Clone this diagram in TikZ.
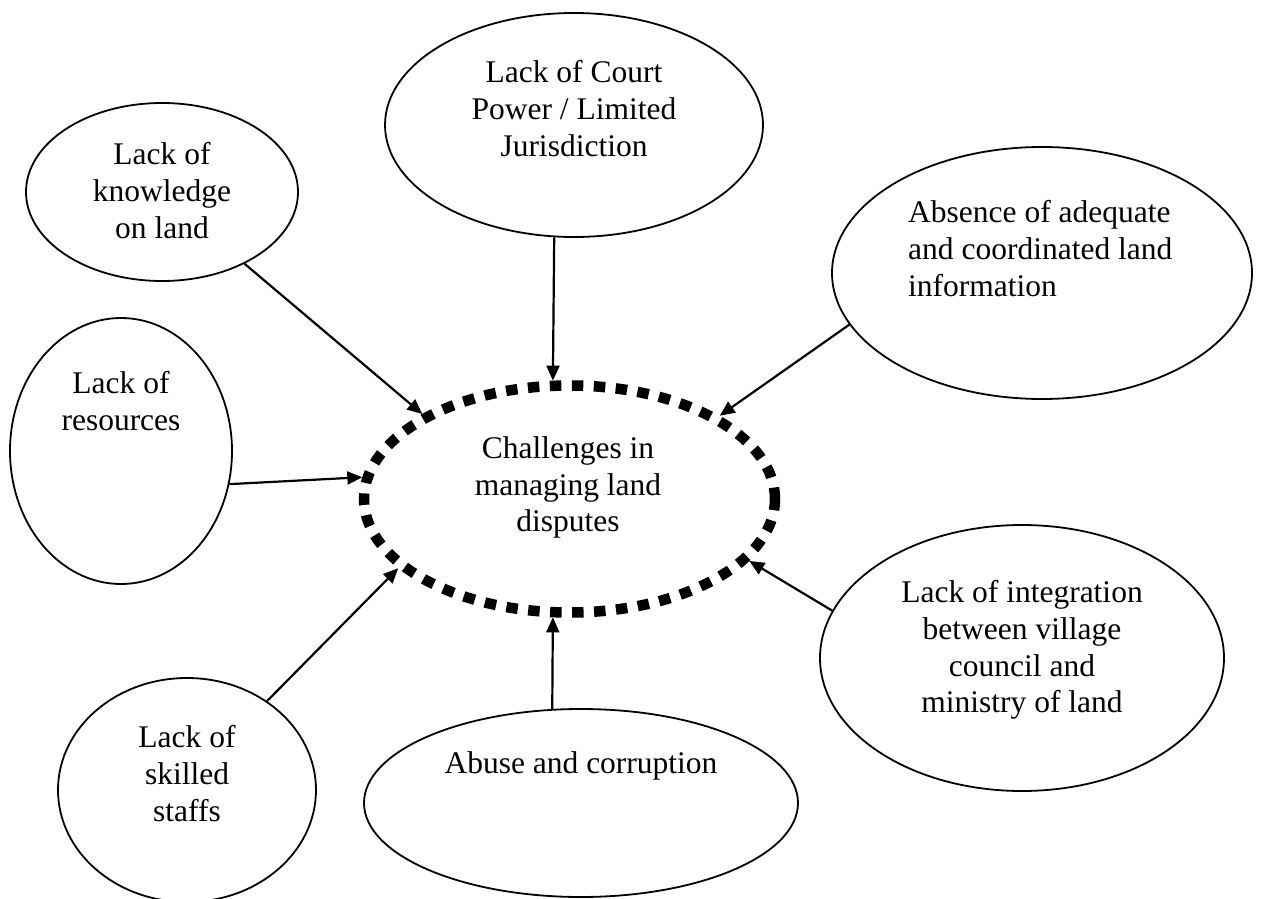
\documentclass[tikz,border=0pt]{standalone}
\usepackage{fontspec}
\setmainfont{Liberation Serif}
\usetikzlibrary{shapes.geometric,arrows.meta}
\begin{document}
\begin{tikzpicture}[x=1pt,y=-1pt,
  bubble/.style={ellipse,draw,line width=1.8pt,inner sep=0pt},
  hub/.style={ellipse,draw,line width=10.5pt,dash pattern=on 11.5pt off 10.5pt,inner sep=0pt},
  txt/.style={font=\fontsize{31.5}{36.6}\selectfont,align=center,inner sep=0pt,anchor=north},
  link/.style={line width=2.2pt,-{Triangle[length=15pt,width=13pt]}}]
\fill[white] (0,0) rectangle (1262,899);
\useasboundingbox (0,0) rectangle (1262,899);
% ellipses
\node[bubble,minimum width=272pt,minimum height=178pt] (know) at (162,192) {};
\node[bubble,minimum width=378pt,minimum height=224pt] (court) at (574,125) {};
\node[bubble,minimum width=420pt,minimum height=252pt] (absn) at (1042,273) {};
\node[bubble,minimum width=222pt,minimum height=266pt] (res) at (121,451) {};
\node[hub,minimum width=411pt,minimum height=227pt] (chal) at (569.5,499) {};
\node[bubble,minimum width=404pt,minimum height=266pt] (integ) at (1022,658) {};
\node[bubble,minimum width=258pt,minimum height=224pt] (skill) at (187,790) {};
\node[bubble,minimum width=434pt,minimum height=188pt] (abuse) at (581,803) {};
% texts
\node[txt] (tknow) at (162,142.5) {Lack of\\knowledge\\on land};
\node[txt] (tcourt) at (574,60.5) {Lack of Court\\Power / Limited\\Jurisdiction};
\node[txt,align=left,anchor=north west] (tabsn) at (908,200.5) {Absence of adequate\\and coordinated land\\information};
\node[txt] (tres) at (121,371.5) {Lack of\\resources};
\node[txt] (tchal) at (568,436.5) {Challenges in\\managing land\\disputes};
\node[txt] (tinteg) at (1022,580.5) {Lack of integration\\between village\\council and\\ministry of land};
\node[txt] (tskill) at (187,725.5) {Lack of\\skilled\\staffs};
\node[txt] (tabuse) at (581,751.5) {Abuse and corruption};
% connectors
\draw[link] (know.-41.5) -- (chal.150.1);
\draw[link] (court.-100.5) -- (chal.98.5);
\draw[link] (absn.-165.7) -- (chal.29.7);
\draw[link] (res.-17.5) -- (chal.174);
\draw[link] (integ.166.7) -- (chal.-19);
\draw[link] (skill.48.4) -- (chal.-158.2);
\draw[link] (abuse.107.5) -- (chal.-98.6);
\end{tikzpicture}
\end{document}
